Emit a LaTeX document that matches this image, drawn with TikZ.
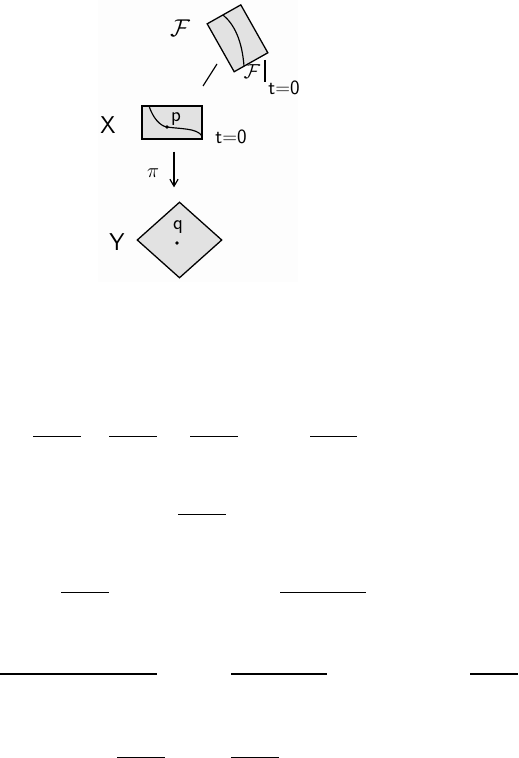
\documentclass[tikz,border=0pt]{standalone}
\usepackage{tikz}
\usepackage{xcolor}
\usetikzlibrary{arrows.meta,calc,shapes.geometric}
\definecolor{panelbg}{RGB}{253,253,253}
\definecolor{sheetfill}{RGB}{226,226,226}
\definecolor{inkblack}{RGB}{0,0,0}

\begin{document}
\begin{tikzpicture}[
    x=0.03cm, y=-0.03cm,
    >={Straight Barb[length=6pt, width=7pt]},
    sheet/.style={fill=sheetfill, draw=inkblack, line width=1.1pt, inner sep=0pt},
    lbl/.style={text=inkblack, inner sep=0pt},
    fracbar/.style={inkblack, line width=1.3pt}
]

% Page frame
\useasboundingbox (0,0) rectangle (518,758);
\fill[panelbg] (98,0) rectangle (298,282);

% FAMILY SHEET (tilted)
\node[sheet, rectangle, rotate=-60.6, minimum width=55*0.03cm, minimum height=38.6*0.03cm] (Fsheet) at (237.5,38.3) {};
\draw[inkblack, line width=1pt] (223,15) .. controls (234,24) and (242,40) .. (244,66);
\node[lbl, font=\huge] (Flab) at (180,28) {$\mathcal{F}$};

% restriction F|_{t=0}
\node[lbl, font=\LARGE] (Frest) at (252,72) {$\mathcal{F}$};
\draw[inkblack, line width=1pt] (265,60) -- (265,82);
\node[lbl, font=\LARGE\sffamily] (Ft) at (284,88) {t=0};

% stray stroke between F and X
\draw[inkblack, line width=1pt] (203,86) -- (217,64);

% TOTAL SPACE X
\node[sheet, rectangle, minimum width=60*0.03cm, minimum height=33*0.03cm] (X) at (172,122.5) {};
\draw[inkblack, line width=1pt] (149,106) .. controls (153,118) and (160,126) .. (167,127)
    .. controls (180,129) and (197,128) .. (202,136);
\fill[inkblack] (167,127) circle (1.6pt);
\node[lbl, font=\huge\sffamily] (Xlab) at (108,125) {X};
\node[lbl, font=\LARGE\sffamily] (plab) at (176,119) {p};
\node[lbl, font=\LARGE\sffamily] (Xt) at (231,137) {t=0};

% BASE Y
\node[sheet, diamond, minimum width=85*0.03cm, minimum height=76*0.03cm] (Y) at (179.5,240) {};
\fill[inkblack] (177,243) circle (1.6pt);
\node[lbl, font=\huge\sffamily] (Ylab) at (117,242) {Y};
\node[lbl, font=\LARGE\sffamily] (qlab) at (178,227) {q};

% projection pi
\draw[->, inkblack, line width=1pt, shorten <=12*0.03cm, shorten >=14*0.03cm]
    ([xshift=2*0.03cm]X.south) -- ([xshift=2*0.03cm]X.south |- Y.north);
\node[lbl, font=\LARGE] (pilab) at (153,173) {$\pi$};

% FRACTION BARS
% row 1
\draw[fracbar] (33,436.7) -- (81,436.7);
\draw[fracbar] (109,436.7) -- (157,436.7);
\draw[fracbar] (190,436.7) -- (238,436.7);
\draw[fracbar] (310,436.7) -- (357,436.7);
% row 2
\draw[fracbar] (178,514.3) -- (226,514.3);
% row 3
\draw[fracbar] (61,592.3) -- (109,592.3);
\draw[fracbar] (280,592.3) -- (366,592.3);
% row 4
\draw[fracbar] (0,674) -- (157,674);
\draw[fracbar] (231,674) -- (327,674);
\draw[fracbar] (470,674) -- (518,674);
% row 5
\draw[fracbar] (117,757.3) -- (165,757.3);
\draw[fracbar] (231,757.3) -- (279,757.3);

\end{tikzpicture}
\end{document}
